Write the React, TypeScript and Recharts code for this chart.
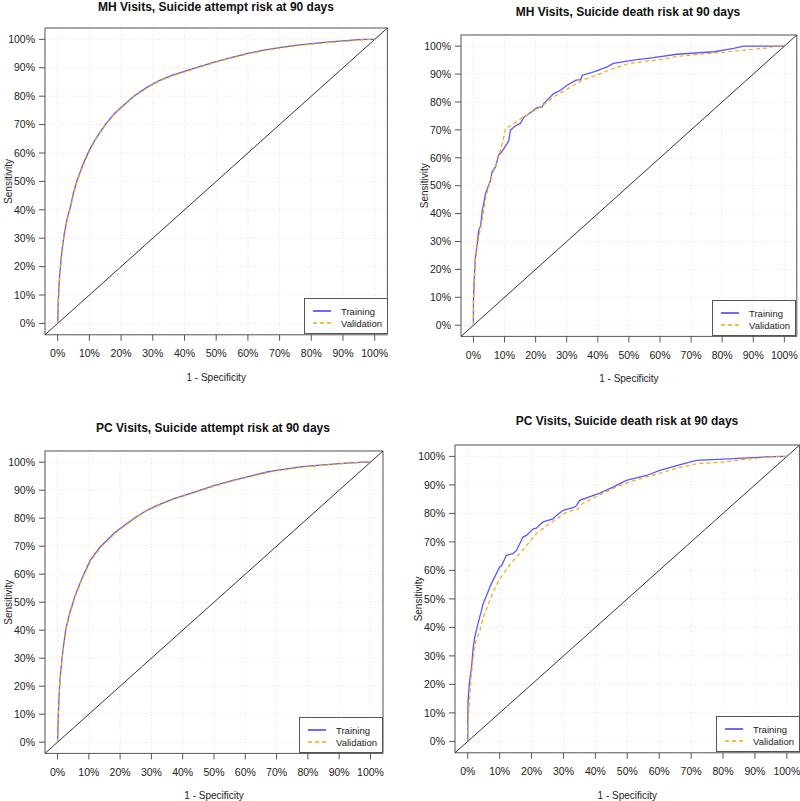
import React from "react"
import {
  LineChart,
  Line,
  XAxis,
  YAxis,
  CartesianGrid,
  ReferenceLine,
  ReferenceArea,
  Legend,
} from "recharts"

const ticks = [0, 10, 20, 30, 40, 50, 60, 70, 80, 90, 100]

// MH visits, suicide attempt (1 - specificity, sensitivity in %)
const mhAttemptFpr = [0, 0.2, 0.5, 1, 1.5, 2, 3, 4, 5, 6, 8, 10, 12, 15, 18, 20, 24, 28, 32, 36, 40, 45, 50, 55, 60, 65, 70, 75, 80, 85, 90, 95, 97, 100]
const mhAttemptTrain = [0, 8, 15, 22, 27, 31, 37, 41, 46, 50, 56, 61, 65, 70, 74, 76, 80, 83, 85.5, 87.3, 88.7, 90.5, 92.2, 93.7, 95.1, 96.2, 97.1, 97.9, 98.5, 99, 99.5, 99.9, 100, 100]
const mhAttemptValid = [0, 7, 14, 21, 26.5, 30.5, 36.5, 40.5, 45.5, 49.5, 55.5, 60.5, 64.8, 69.8, 73.8, 75.8, 79.8, 82.8, 85.3, 87.1, 88.5, 90.3, 92, 93.5, 94.9, 96, 96.9, 97.7, 98.3, 98.8, 99.3, 99.7, 100, 100]

// MH visits, suicide death
const mhDeathTrainFpr = [0, 0, 0.3, 0.6, 1.2, 1.7, 2.3, 2.5, 2.8, 3.1, 3.9, 5.5, 6, 7.1, 8.1, 8.7, 10.8, 11.4, 11.9, 13.5, 15.1, 16.2, 17.3, 20.5, 22.1, 22.6, 25.8, 28, 30.1, 33, 34.5, 35, 38.7, 43, 45, 51.5, 57.9, 65.5, 77.3, 83.7, 86.9, 100]
const mhDeathTrainTpr = [0, 9, 17, 24, 29, 34, 35.5, 37.6, 41, 42.4, 47.2, 52, 55, 56.7, 61, 61.5, 65.1, 66.3, 69.9, 71.5, 72.3, 74.5, 75.3, 78, 78.2, 79.4, 83, 84.2, 86, 87.8, 88, 89.6, 90.8, 92.6, 93.8, 95, 95.9, 97.1, 98, 99.2, 100, 100]
const mhDeathValidFpr = [0, 0, 0.5, 1, 1.8, 2.5, 3.3, 4, 5, 6, 7.5, 8.5, 9.5, 10.3, 12, 14, 16, 19, 22, 26, 30, 35, 40, 45, 50, 55, 60, 65.5, 72, 80, 85, 90, 95, 97, 100]
const mhDeathValidTpr = [0, 8, 22, 27, 32, 36, 41, 46, 50, 54, 58, 62, 66, 70.5, 71.5, 73, 74.5, 76.5, 78.5, 82, 84.5, 87.8, 89.8, 92, 93.8, 94.5, 95.2, 96.3, 97, 97.8, 98.4, 98.9, 99.4, 100, 100]

// PC visits, suicide attempt
const pcAttemptFpr = [0, 0.2, 0.4, 0.7, 1, 1.5, 2, 2.6, 3.3, 4, 5.5, 8, 10.5, 13.7, 18, 20, 24.4, 28, 31.9, 37.2, 40, 45.7, 50, 56.3, 60, 67, 70, 77.6, 80, 90, 97.6, 100]
const pcAttemptTrain = [0, 7, 14, 21, 25, 30.5, 35, 40, 43.5, 46.5, 52, 59, 65, 69.8, 74.5, 76.3, 79.9, 82.5, 84.6, 87, 88, 90, 91.6, 93.6, 94.6, 96.5, 97.1, 98.3, 98.6, 99.5, 100, 100]
const pcAttemptValid = [0, 6.5, 13.5, 20.5, 24.5, 30, 34.6, 39.6, 43.1, 46.1, 51.6, 58.6, 64.6, 69.5, 74.2, 76, 79.6, 82.3, 84.4, 86.8, 87.8, 89.8, 91.4, 93.4, 94.4, 96.3, 96.9, 98.1, 98.4, 99.4, 100, 100]

// PC visits, suicide death
const pcDeathTrainFpr = [0, 0, 0.1, 0.6, 1.2, 1.7, 2.2, 3.2, 4.3, 4.8, 5.9, 6.9, 7.9, 10, 10.6, 12.1, 14.2, 15.3, 17.3, 18.4, 20.5, 21.5, 23.6, 26.7, 27.8, 29.9, 33.5, 34.1, 35.1, 41.4, 45.5, 49.7, 56, 60.2, 67.5, 71.7, 83.2, 93.6, 100]
const pcDeathTrainTpr = [0, 8, 14.4, 21.4, 26.1, 33, 36.6, 41.3, 46, 48.3, 51.2, 54.1, 56.5, 61.2, 61.6, 65.3, 65.9, 67, 71.7, 72.3, 74.6, 74.8, 77, 78.1, 79.3, 81.1, 82.2, 82.8, 84.6, 87.1, 89.2, 91.6, 93.3, 95.1, 97.4, 98.6, 99.2, 99.8, 100]
const pcDeathValidFpr = [0, 0, 0.5, 1, 1.7, 2.5, 3.8, 5, 6.9, 9, 11.1, 13.5, 16.3, 19, 21.5, 24.5, 27.8, 31, 34.6, 36, 41, 45, 50, 56, 60, 66, 72, 80, 83, 90, 95, 97, 100]
const pcDeathValidTpr = [0, 6, 13, 22, 29.6, 35, 39, 44, 49.5, 55, 58.8, 62.5, 65.9, 69.5, 72.9, 75.5, 78.1, 80.5, 81.6, 83.5, 86.3, 88.5, 90.8, 92.8, 94, 96, 97.5, 98, 98.5, 99.3, 99.8, 100, 100]

const toPoints = (xs: number[], ys: number[]) => xs.map((x, i) => ({ x, y: ys[i] }))

const FONT = '"Liberation Sans", Arial, Helvetica, sans-serif'

type Box = { x0: number; x1: number; y0: number; y1: number }

function LegendBox(props: any) {
  const items = props.payload || []
  return (
    <svg width={84} height={36} style={{ display: "block" }}>
      <rect x={0.5} y={0.5} width={83} height={35} fill="#fff" stroke="#555" />
      {items.map((item: any, i: number) => {
        const y = 13 + i * 12
        return (
          <g key={item.value}>
            <line
              x1={9}
              x2={27}
              y1={y}
              y2={y}
              stroke={item.color}
              strokeWidth={1.5}
              strokeDasharray={item.payload?.strokeDasharray}
            />
            <text x={37} y={y + 3.5} fontSize={9.5} fill="#222">
              {item.value}
            </text>
          </g>
        )
      })}
    </svg>
  )
}

function RocPanel({
  title,
  box,
  titleX,
  titleY,
  training,
  validation,
}: {
  title: string
  box: Box
  titleX: number
  titleY: number
  training: { x: number; y: number }[]
  validation: { x: number; y: number }[]
}) {
  const W = 42
  const H = 50
  const mt = 10
  const mr = 4
  const pw = box.x1 - box.x0
  const ph = box.y1 - box.y0
  return (
    <>
      <div
        style={{
          position: "absolute",
          left: titleX - 200,
          top: titleY - 7,
          width: 400,
          textAlign: "center",
          fontWeight: "bold",
          fontSize: 12,
          lineHeight: "14px",
          color: "#111",
        }}
      >
        {title}
      </div>
      <div style={{ position: "absolute", left: box.x0 - W, top: box.y0 - mt }}>
        <LineChart
          width={pw + W + mr}
          height={ph + mt + H}
          margin={{ top: mt, right: mr, bottom: 0, left: 0 }}
        >
          <CartesianGrid stroke="#e4e4e4" strokeDasharray="1 2" />
          <XAxis
            type="number"
            dataKey="x"
            domain={[-4, 104]}
            allowDataOverflow
            ticks={ticks}
            interval={0}
            height={H}
            axisLine={false}
            tickSize={6}
            tickMargin={9}
            tickLine={{ stroke: "#555" }}
            tick={{ fontSize: 10.5, fill: "#222" }}
            tickFormatter={(v) => `${v}%`}
            label={{
              value: "1 - Specificity",
              position: "insideBottom",
              offset: 4,
              fontSize: 10,
              fill: "#222",
            }}
          />
          <YAxis
            type="number"
            dataKey="y"
            domain={[-4, 104]}
            allowDataOverflow
            ticks={ticks}
            interval={0}
            width={W}
            axisLine={false}
            tickSize={6}
            tickMargin={4}
            tickLine={{ stroke: "#555" }}
            tick={{ fontSize: 10.5, fill: "#222" }}
            tickFormatter={(v) => `${v}%`}
            label={{
              value: "Sensitivity",
              angle: -90,
              position: "insideLeft",
              offset: 5,
              fontSize: 10,
              fill: "#222",
              style: { textAnchor: "middle" },
            }}
          />
          <ReferenceLine
            segment={[
              { x: -4, y: -4 },
              { x: 104, y: 104 },
            ]}
            stroke="#333"
            strokeWidth={1}
          />
          <Line
            data={training}
            dataKey="y"
            name="Training"
            type="linear"
            stroke="#3b3bff"
            strokeWidth={1.3}
            strokeOpacity={0.85}
            dot={false}
            isAnimationActive={false}
          />
          <Line
            data={validation}
            dataKey="y"
            name="Validation"
            type="linear"
            stroke="#ffa500"
            strokeWidth={1.2}
            strokeDasharray="4 3"
            dot={false}
            isAnimationActive={false}
          />
          <ReferenceArea x1={-4} x2={104} y1={-4} y2={104} fill="none" stroke="#555" strokeWidth={1} />
          <Legend
            layout="vertical"
            align="center"
            verticalAlign="middle"
            content={<LegendBox />}
            wrapperStyle={{
              left: W + pw - 84,
              top: mt + ph - 36,
              width: 84,
              height: 36,
            }}
          />
        </LineChart>
      </div>
    </>
  )
}

export default function App() {
  return (
    <div
      style={{
        position: "absolute",
        left: 0,
        top: 0,
        width: 800,
        height: 801,
        overflow: "hidden",
        background: "#fff",
        fontFamily: FONT,
      }}
    >
      <RocPanel
        title="MH Visits, Suicide attempt risk at 90 days"
        box={{ x0: 45.3, x1: 387.7, y0: 27.6, y1: 334.4 }}
        titleX={216}
        titleY={7}
        training={toPoints(mhAttemptFpr, mhAttemptTrain)}
        validation={toPoints(mhAttemptFpr, mhAttemptValid)}
      />
      <RocPanel
        title="MH Visits, Suicide death risk at 90 days"
        box={{ x0: 460.6, x1: 796.4, y0: 34.8, y1: 336.2 }}
        titleX={628}
        titleY={12}
        training={toPoints(mhDeathTrainFpr, mhDeathTrainTpr)}
        validation={toPoints(mhDeathValidFpr, mhDeathValidTpr)}
      />
      <RocPanel
        title="PC Visits, Suicide attempt risk at 90 days"
        box={{ x0: 44.5, x1: 382.5, y0: 450.8, y1: 753.2 }}
        titleX={213}
        titleY={428}
        training={toPoints(pcAttemptFpr, pcAttemptTrain)}
        validation={toPoints(pcAttemptFpr, pcAttemptValid)}
      />
      <RocPanel
        title="PC Visits, Suicide death risk at 90 days"
        box={{ x0: 455.2, x1: 799.8, y0: 444.6, y1: 752.4 }}
        titleX={627}
        titleY={421}
        training={toPoints(pcDeathTrainFpr, pcDeathTrainTpr)}
        validation={toPoints(pcDeathValidFpr, pcDeathValidTpr)}
      />
    </div>
  )
}
